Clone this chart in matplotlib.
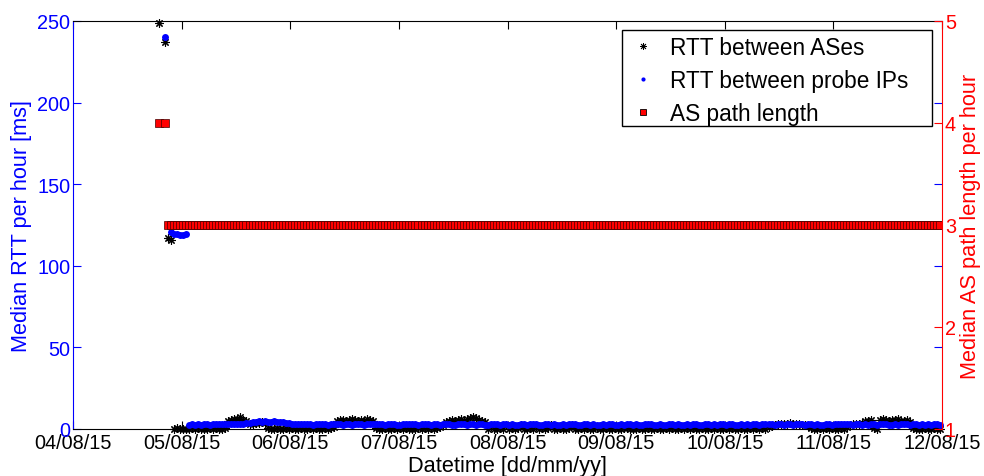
"""Median RTT and AS path length per hour between two probes."""

import matplotlib
matplotlib.use("Agg")
import matplotlib.pyplot as plt
import matplotlib.dates as mdates
from matplotlib.lines import Line2D
from matplotlib.patches import Rectangle
import numpy as np
import pandas as pd

# Hourly medians, sampled every 40 minutes from 04/08/15 19:00
times = pd.date_range("2015-08-04 19:00", periods=260, freq="40min")

# RTT between ASes [ms]
ases_start = [249, np.nan, 237, 117, 116]
ases_low = [
    0.2, 0.4, 0.1, 0.3, 0.2,
    0.3, 0.5, 0.1, 0.4, 0.2, 0.0, 0.3, 0.5, 0.2, 0.4, 0.1, 0.3, 0.6,
    4.8, 5.5, 5.9, 6.4, 7.3, 5.6, 4.9,
    3.2, 2.8, 3.5, 3.9, 4.2, 3.4,
    0.4, 0.1, 0.3, 0.5, 0.2, 0.0, 0.4, 0.3, 0.6, 0.1, 0.3, 0.5, 0.0, 0.2,
    0.4, 0.2, 0.5, 0.1, 0.3, 0.4, 0.2, 0.9, 1.5,
    4.6, 5.3, 5.8, 5.1, 5.6, 6.0, 5.4, 5.0, 5.7, 5.2, 6.1, 5.5, 4.7,
    0.8, 0.3, 0.1, 0.4, 0.3, 0.0, 0.5, 0.2, 0.4, 0.1, 0.5, 0.3, 0.3, 0.0,
    0.4, 0.2, 0.5, 0.1, 0.4, 0.3, 0.6, 1.4, 2.5,
    4.5, 5.0, 5.4, 4.8, 5.6, 5.9, 5.2, 6.3, 6.8, 7.6, 6.5, 5.7, 5.0, 4.4,
    0.3, 1.6, 0.1, 0.3, 0.5, 0.0, 2.2, 0.2, 0.4, 0.1, 0.5, 2.4, 0.3, 0.0,
    0.4, 0.3, 2.0, 0.1, 0.5, 0.2, 0.4, 2.3, 0.0, 0.3, 0.6, 0.1, 0.3, 0.4,
    2.2, 0.2, 0.0, 0.4, 0.3, 0.5, 0.1, 0.3, 0.5, 0.2,
    0.3, 0.4, 0.1, 0.3, 0.5, 0.0, 0.2, 0.4, 0.5, 0.1,
    0.3, 0.2, 0.6, 0.3, 0.0, 0.4, 0.3, 0.1, 0.5, 0.3,
    0.2, 0.4, 0.0, 0.5, 0.3, 0.1, 0.4, 0.3, 0.7, 0.2,
    0.4, 0.1, 0.3, 0.5, 0.0, 0.3, 0.4, 0.2, 0.5, 0.1,
    0.3, 0.4, 0.2, 0.6, 0.3, 0.1, 0.5, 0.3, 0.0, 0.4,
    0.3, 0.5, 0.2, 0.4, 0.3, 1.2, 2.0, 2.6,
    3.0, 3.3, 2.9, 3.1, 3.4, 2.8, 3.2, 3.0, 2.7, 2.4, 1.8,
    0.5, 0.2, 0.3, 0.6, 0.1, 0.4, 0.3, 0.5, 0.0, 0.3, 0.4, 0.2, 1.2,
    2.5, 3.0, 3.3, 2.9, 3.6,
    4.6, 5.2, 5.8, 0.4, 0.2, 5.5, 6.0, 5.3, 4.9, 5.7, 5.4, 6.2, 5.1, 4.8,
    5.5, 4.5,
    0.5, 0.2, 0.3, 0.0, 0.5, 0.3, 0.1, 0.4, 0.2, 0.3,
]

# RTT between probe IPs [ms]
probe_start = [np.nan, np.nan, 240, np.nan, 120.5, 119.5, 119.5, 119, 119, 119.3]
probe_low = [
    2.6, 2.8, 2.7, 2.9, 2.6, 2.8, 3.0, 2.7, 2.9, 2.8,
    3.1, 2.9, 3.0, 2.8, 3.2, 3.0, 2.9, 3.1, 3.3, 3.4,
    3.8, 4.1, 4.4, 4.6, 4.3, 4.7, 4.5, 4.2, 4.6, 4.4,
    4.0, 4.3, 3.9, 3.6, 3.3,
    3.0, 2.9, 2.8, 2.9, 3.1, 2.8, 2.7, 2.9, 3.0, 2.8,
    2.9, 2.7, 2.8, 3.0, 2.9, 2.8, 2.6, 2.8, 2.9, 2.7,
    2.8, 3.0, 2.9, 2.7, 2.8, 2.9, 3.1, 3.0, 2.8, 2.9,
    2.7, 2.8, 2.9, 2.8, 2.6, 2.7, 2.9, 2.8, 3.0, 2.9,
    2.8, 2.7, 2.9, 3.0, 2.8, 2.7, 2.8, 2.9, 2.7, 2.8,
    2.9, 2.8, 2.6, 2.7, 2.8, 2.9, 2.8, 2.7, 2.9, 2.8,
    2.7, 2.8, 2.9, 2.7, 2.6, 2.8, 2.9, 2.8, 2.7, 2.8,
    2.9, 2.7, 2.8, 2.6, 2.7, 2.9, 2.8, 2.7, 2.8, 2.9,
    2.8, 2.6, 2.7, 2.8, 2.9, 2.7, 2.8, 2.6, 2.7, 2.8,
    2.7, 2.8, 2.9, 2.8, 2.6, 2.7, 2.8, 2.9, 2.7, 2.8,
    2.6, 2.7, 2.8, 2.7, 2.9, 2.8, 2.7, 2.6, 2.8, 2.7,
    2.8, 2.9, 2.7, 2.8, 2.6, 2.7, 2.8, 2.9, 2.8, 2.7,
    2.7, 2.8, 2.6, 2.7, 2.9, 2.8, 2.7, 2.8, 2.6, 2.7,
    2.8, 2.7, 2.9, 2.8, 2.7, 2.6, 2.8, 2.9, 2.7, 2.8,
    2.7, 2.9, 2.8, 2.7, 2.8, 2.9, 2.7, 2.6, 2.8, 2.7,
    2.8, 2.7, 2.9, 2.8, 2.7, 2.8, 2.9, 3.0, 2.8, 2.7,
    2.9, 2.8, 2.7, 2.8, 2.9, 2.7, 2.8, 2.9, 2.8, 2.7,
    2.8, 2.9, 2.7, 2.8, 2.6, 2.7, 2.9, 2.8, 2.7, 2.8,
    2.9, 2.8, 3.0, 2.9, 2.8, 2.7, 2.9, 2.8, 2.7, 2.8,
    2.7, 2.8, 2.9, 2.7, 2.8, 2.9, 2.8, 2.7, 2.6, 2.8,
    2.7, 2.8, 2.9, 2.8, 2.7, 2.8, 2.9, 2.7, 2.8, 2.7,
    2.8, 2.7, 2.9, 2.8, 2.7,
]

# Median AS path length
path_len = [4, np.nan, 4] + [3] * 257

rtt_ases = ases_start + ases_low
rtt_probe = probe_start + probe_low
assert len(rtt_ases) == len(times) == len(rtt_probe) == len(path_len)

x_ticks = pd.date_range("2015-08-04", "2015-08-12", freq="D")

plt.rcParams["font.family"] = ["Liberation Sans", "DejaVu Sans"]
BLUE = "#0000ff"
RED = "#ff0000"
asterisk = (8, 2, 0)

fig = plt.figure(figsize=(9.84, 4.77), dpi=100)
ax = fig.add_axes([73 / 984, 1 - 430 / 477, 869 / 984, 408 / 477])
ax2 = ax.twinx()

ax.plot(times, rtt_ases, linestyle="none", marker=asterisk, markersize=6,
        markeredgewidth=0.8, color="black", clip_on=False)
ax.plot(times, rtt_probe, linestyle="none", marker="o", markersize=5,
        markeredgewidth=0, color=BLUE, clip_on=False)
ax2.plot(times, path_len, linestyle="none", marker="s", markersize=6,
         markerfacecolor=RED, markeredgecolor="#400000", markeredgewidth=0.5)

ax.set_xlim(x_ticks[0], x_ticks[-1])
ax.set_xticks(x_ticks)
ax.xaxis.set_major_formatter(mdates.DateFormatter("%d/%m/%y"))
ax.set_ylim(0, 250)
ax.set_yticks(np.arange(0, 251, 50))
ax2.set_ylim(1, 5)
ax2.set_yticks([1, 2, 3, 4, 5])

ax.tick_params(axis="x", direction="in", length=5.5, top=True, colors="black",
               labelsize=14.3, pad=3)
ax.tick_params(axis="y", direction="in", length=5.5, right=True, colors=BLUE,
               labelsize=14.3, pad=2)
ax2.tick_params(axis="y", direction="in", length=5.5, colors=RED,
                labelsize=14.3, pad=2)

ax.spines["left"].set_color(BLUE)
ax.spines["right"].set_visible(False)
for side in ["left", "top", "bottom"]:
    ax2.spines[side].set_visible(False)
ax2.spines["right"].set_color(RED)

ax.set_xlabel("Datetime [dd/mm/yy]", fontsize=15.7, labelpad=2)
ax.set_ylabel("Median RTT per hour [ms]", fontsize=15.7, color=BLUE, labelpad=4)
ax2.set_ylabel("Median AS path length per hour", fontsize=15.7, color=RED,
               labelpad=3)

# Legend box drawn separately so it can be wider than its text
frame = Rectangle((622 / 984, 1 - 127 / 477), 310 / 984, 96 / 477,
                  transform=fig.transFigure, facecolor="white",
                  edgecolor="black", linewidth=1.0, zorder=4, clip_on=False)
ax2.add_patch(frame)

handles = [
    Line2D([], [], linestyle="none", marker=asterisk, markersize=5,
           markeredgewidth=0.6, color="black"),
    Line2D([], [], linestyle="none", marker="o", markersize=3,
           markeredgewidth=0, color=BLUE),
    Line2D([], [], linestyle="none", marker="s", markersize=4,
           markerfacecolor=RED, markeredgecolor="black", markeredgewidth=0.6),
]
labels = ["RTT between ASes", "RTT between probe IPs", "AS path length"]
leg = ax2.legend(handles, labels, loc="upper left",
                 bbox_to_anchor=(622 / 984, 1 - 31 / 477),
                 bbox_transform=fig.transFigure, borderaxespad=0,
                 fontsize=16.3, frameon=False,
                 handlelength=1.36, handletextpad=0.5, labelspacing=0.44,
                 borderpad=0.25)
leg.set_zorder(5)

fig.savefig("out.png", dpi=100)
